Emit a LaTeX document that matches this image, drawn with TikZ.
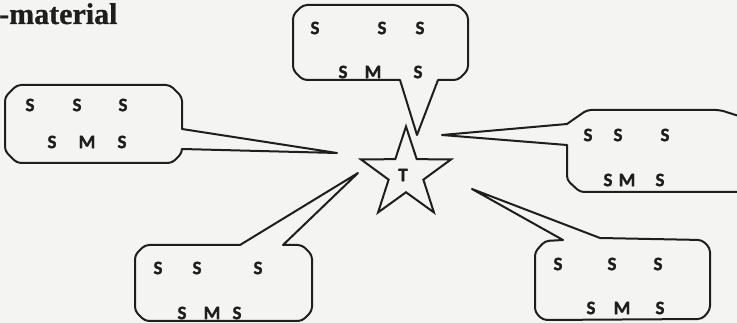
\documentclass[tikz,border=0pt]{standalone}
\usepackage{fontspec}
\setmainfont{Liberation Serif}[BoldFeatures={FakeBold=0.8}]
\newfontfamily\lblfont{Carlito}[BoldFeatures={FakeBold=1.2}]
\usetikzlibrary{shapes.geometric}
\definecolor{ink}{HTML}{1E1E1E}
\definecolor{paper}{HTML}{F4F4F2}
\tikzset{
  bubble/.style={draw=ink, line width=2pt, line join=round, line cap=round},
  lbl/.style={inner sep=0pt, text=ink, font=\lblfont\bfseries\fontsize{19}{19}\selectfont},
  teacher/.style={draw=ink, line width=2pt, shape=star, star points=5, star point ratio=2.6,
    minimum size=95pt, inner sep=0pt}
}
\begin{document}
\begin{tikzpicture}[x=1pt,y=-1pt]
\useasboundingbox (0,0) rectangle (737,323);
\fill[paper] (0,0) rectangle (737,323);
\clip (0,0) rectangle (737,323);
% heading
\node[anchor=base west, inner sep=0pt, text=ink,
  font=\bfseries\fontsize{30}{30}\selectfont] (head) at (-1,24) {-material};
% star (teacher)
\node[teacher] (T) at (406,174) {};
\node[lbl] (tlbl) at (403,175) {T};
% tail tips
\coordinate (tipTop) at (417,135);
\coordinate (tipLeft) at (337,153);
\coordinate (tipRight) at (442,135);
\coordinate (tipBL) at (358,173);
\coordinate (tipBR) at (472,189);
% top bubble
\draw[bubble] (tipTop) -- (400,80) [rounded corners=4pt] -- (303,80) -- (293,70) -- (293,15) -- (303,5)
  -- (458,5) -- (468,15) -- (468,70) -- (458,80) [sharp corners] -- (438,80) -- (tipTop);
% left bubble
\draw[bubble] (tipLeft) -- (182,149) [rounded corners=4pt] -- (182,153) -- (172,163) -- (17,163) -- (5,151)
  -- (5,97) -- (17,85) -- (170,85) -- (182,97) [sharp corners] -- (182,129) -- (tipLeft);
% right bubble
\draw[bubble] (tipRight) -- (567,124) [rounded corners=4pt] -- (587,110) -- (720,110) -- (745,118)
  -- (745,192) -- (580,192) -- (567,180) [sharp corners] -- (567,145) -- (tipRight);
% bottom-left bubble
\draw[bubble] (tipBL) -- (283,245) [rounded corners=4pt] -- (302,245) -- (312,255) -- (312,311) -- (302,321)
  -- (145,321) -- (135,311) -- (135,255) -- (145,245) [sharp corners] -- (240,245) -- (tipBL);
% bottom-right bubble
\draw[bubble] (tipBR) -- (600,238) [rounded corners=4pt] -- (702,240) -- (710,248) -- (710,310) -- (702,319)
  -- (543,320) -- (535,312) -- (535,252) -- (545,241) [sharp corners] -- (563,240) -- (tipBR);
% labels: top bubble
\node[lbl] (a1) at (315,28) {S};
\node[lbl] (a2) at (382,28) {S};
\node[lbl] (a3) at (420,28) {S};
\node[lbl] (a4) at (343,72) {S};
\node[lbl] (a5) at (373,72) {M};
\node[lbl] (a6) at (418,72) {S};
% left bubble
\node[lbl] (b1) at (30,105) {S};
\node[lbl] (b2) at (77,105) {S};
\node[lbl] (b3) at (123,105) {S};
\node[lbl] (b4) at (52,142) {S};
\node[lbl] (b5) at (87,142) {M};
\node[lbl] (b6) at (122,142) {S};
% right bubble
\node[lbl] (c1) at (588,135) {S};
\node[lbl] (c2) at (618,135) {S};
\node[lbl] (c3) at (665,135) {S};
\node[lbl] (c4) at (608,180) {S};
\node[lbl] (c5) at (627,180) {M};
\node[lbl] (c6) at (660,180) {S};
% bottom-left bubble
\node[lbl] (d1) at (158,268) {S};
\node[lbl] (d2) at (197,268) {S};
\node[lbl] (d3) at (258,268) {S};
\node[lbl] (d4) at (182,313) {S};
\node[lbl] (d5) at (212,313) {M};
\node[lbl] (d6) at (237,313) {S};
% bottom-right bubble
\node[lbl] (e1) at (558,264) {S};
\node[lbl] (e2) at (612,264) {S};
\node[lbl] (e3) at (658,264) {S};
\node[lbl] (e4) at (591,308) {S};
\node[lbl] (e5) at (622,308) {M};
\node[lbl] (e6) at (660,308) {S};
\end{tikzpicture}
\end{document}
